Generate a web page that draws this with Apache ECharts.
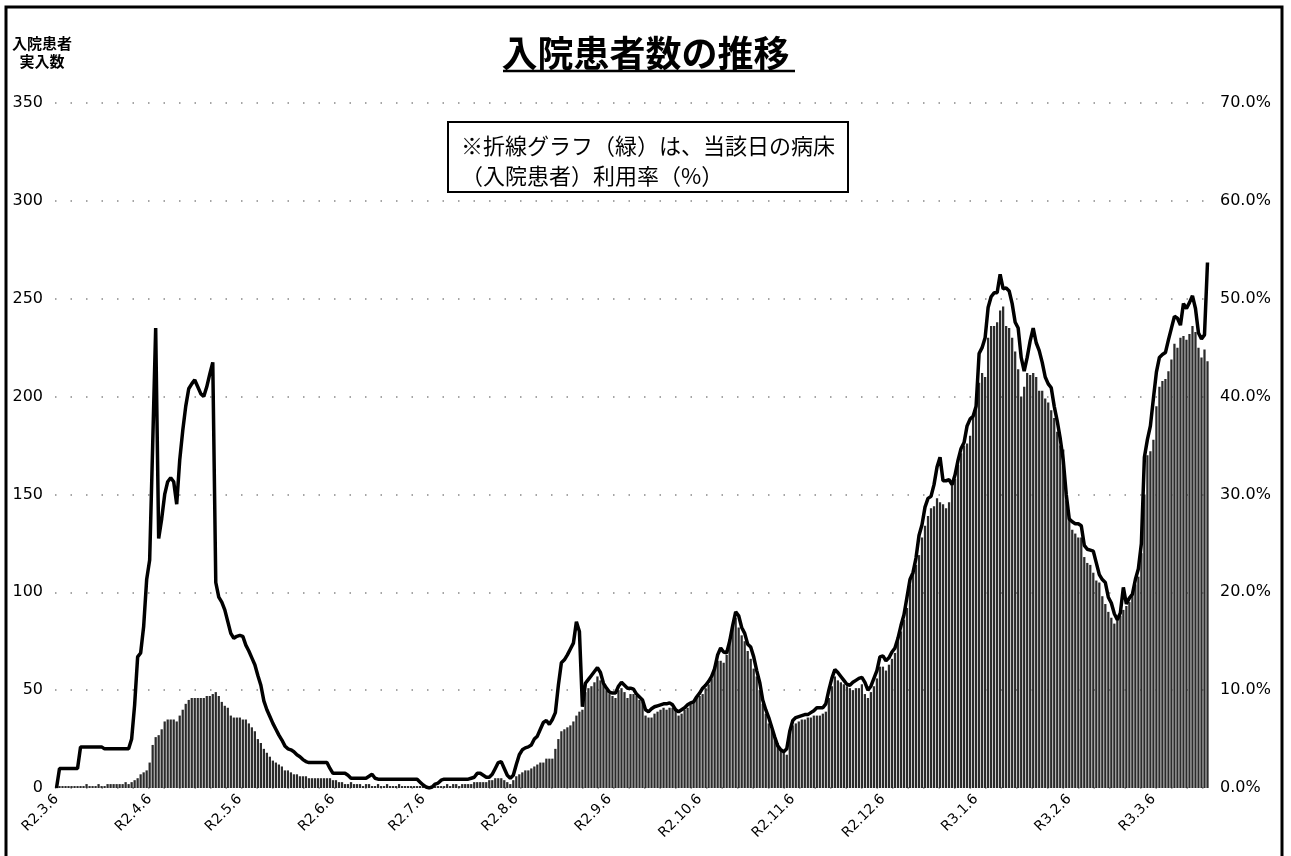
<!DOCTYPE html>
<html>
<head>
<meta charset="utf-8">
<script src="https://cdn.jsdelivr.net/npm/echarts/dist/echarts.min.js"></script>
<style>
html,body{margin:0;padding:0;background:#fff;}
#chart{width:1291px;height:856px;}
</style>
</head>
<body>
<div id="chart"></div>
<script>
// ---- data ----
const titleText = '入院患者数の推移';
const yAxisTitle = ['入院患者', '実入数'];
const noteLines = ['※折線グラフ（緑）は、当該日の病床', '（入院患者）利用率（%）'];
const startDate = [2020, 3, 6];
const monthTicks = ['R2.3.6','R2.4.6','R2.5.6','R2.6.6','R2.7.6','R2.8.6','R2.9.6','R2.10.6','R2.11.6','R2.12.6','R3.1.6','R3.2.6','R3.3.6'];
const lastLabel = '53.7%';

// 入院患者 実人数 (daily, left axis)
const patients = [
  1,1,1,1,1,1,1,1,1,1,
  2,1,1,1,2,1,1,2,2,2,
  2,2,2,3,2,3,4,5,7,8,
  9,13,22,26,27,30,34,35,35,35,
  34,37,40,43,45,46,46,46,46,46,
  47,47,48,49,47,44,42,41,37,36,
  36,36,35,35,33,31,29,25,23,20,
  18,16,14,13,12,11,9,9,8,7,
  7,6,6,6,5,5,5,5,5,5,
  5,5,4,4,3,3,2,2,3,2,
  2,2,1,2,2,1,1,2,1,1,
  2,1,1,1,2,1,1,1,1,1,
  1,1,1,0,0,1,1,1,1,1,
  2,1,2,2,1,2,2,2,2,3,
  3,3,3,3,4,4,5,5,5,4,
  3,2,4,6,7,8,9,9,10,11,
  12,13,13,15,15,15,20,25,29,30,
  31,32,34,37,39,40,49,51,52,54,
  57,55,53,50,48,47,46,50,51,49,
  46,48,48,47,45,44,37,36,36,38,
  39,40,41,40,41,41,40,37,38,40,
  41,43,44,46,47,48,51,53,56,62,
  65,65,64,68,76,82,87,82,78,75,
  70,66,61,57,50,43,38,33,30,27,
  23,19,18,17,28,32,33,34,35,35,
  36,36,37,37,37,38,39,46,52,57,
  55,54,53,52,51,50,51,51,53,48,
  46,49,52,56,62,62,60,63,66,69,
  75,80,86,92,104,110,114,119,128,134,
  139,143,144,148,146,145,143,146,155,158,
  165,171,175,176,180,190,200,207,212,210,
  230,236,236,238,244,246,236,235,230,223,
  214,200,205,212,211,212,210,203,203,199,
  197,193,189,182,175,173,147,137,132,130,
  128,128,118,115,114,110,106,105,98,94,
  90,87,84,86,88,91,93,95,99,104,
  108,120,150,170,172,178,195,205,208,209,
  213,219,227,225,230,231,229,232,236,233,
  225,220,224,218
];

// 病床（入院患者）利用率 % (daily, right axis)
const occupancyRate = [
  0,2.0,2.0,2.0,2.0,2.0,2.0,2.0,4.2,4.2,
  4.2,4.2,4.2,4.2,4.2,4.2,4.0,4.0,4.0,4.0,
  4.0,4.0,4.0,4.0,4.0,5.0,8.5,13.4,13.8,16.5,
  21.3,23.3,35.0,47.0,25.5,27.5,30.0,31.3,31.7,31.3,
  29.0,33.5,36.5,39.0,40.8,41.3,41.7,41.0,40.3,40.0,
  41.0,42.3,43.5,21.0,19.5,19.0,18.2,17.0,15.8,15.3,
  15.5,15.6,15.5,14.6,14.0,13.3,12.6,11.5,10.5,8.9,
  8.0,7.3,6.6,6.0,5.4,4.9,4.3,4.0,3.9,3.7,
  3.4,3.2,2.9,2.7,2.6,2.6,2.6,2.6,2.6,2.6,
  2.6,2.0,1.5,1.5,1.5,1.5,1.5,1.3,1.0,1.0,
  1.0,1.0,1.0,1.0,1.2,1.4,1.0,0.9,0.9,0.9,
  0.9,0.9,0.9,0.9,0.9,0.9,0.9,0.9,0.9,0.9,
  0.9,0.6,0.3,0.1,0.0,0.1,0.4,0.5,0.8,0.9,
  0.9,0.9,0.9,0.9,0.9,0.9,0.9,0.9,1.0,1.1,
  1.5,1.5,1.3,1.1,1.1,1.4,2.0,2.6,2.7,2.0,
  1.3,1.0,1.3,2.4,3.4,3.9,4.1,4.2,4.4,5.0,
  5.3,6.0,6.7,6.9,6.5,7.0,7.7,10.5,12.8,13.1,
  13.6,14.2,14.8,17.0,16.0,8.3,10.7,11.1,11.5,11.9,
  12.3,11.8,10.7,10.2,9.8,9.7,9.7,10.4,10.8,10.5,
  10.2,10.2,10.1,9.6,9.3,9.0,8.0,7.8,8.1,8.3,
  8.4,8.5,8.6,8.6,8.7,8.5,8.0,7.8,8.0,8.2,
  8.5,8.7,8.8,9.3,9.7,10.2,10.5,10.9,11.4,12.2,
  13.6,14.3,13.9,13.8,15.0,16.6,18.0,17.6,16.4,15.8,
  14.7,14.4,13.4,12.0,10.8,9.0,8.0,7.2,6.2,5.2,
  4.3,3.9,3.7,4.0,5.8,6.9,7.2,7.3,7.4,7.5,
  7.5,7.7,7.9,8.2,8.2,8.2,8.6,10.0,11.2,12.1,
  11.8,11.4,11.0,10.6,10.5,10.8,11.0,11.2,11.3,10.8,
  10.0,10.4,11.2,12.0,13.4,13.5,13.0,13.3,13.9,14.3,
  15.3,16.6,17.7,19.5,21.3,22.0,23.5,25.8,26.9,28.7,
  29.6,29.8,31.0,32.8,33.8,31.4,31.4,31.5,31.0,32.0,
  33.5,34.7,35.3,37.0,37.7,38.0,39.0,44.4,45.0,46.0,
  49.1,50.2,50.6,50.6,52.5,51.0,51.1,50.8,49.5,47.6,
  47.0,44.0,42.6,44.0,45.7,47.0,45.5,44.7,43.5,42.0,
  41.3,40.9,39.0,37.5,35.7,33.5,30.0,27.5,27.2,27.0,
  27.0,26.8,24.8,24.4,24.3,24.2,23.0,21.8,21.3,21.0,
  19.5,18.9,17.8,17.2,17.9,20.5,18.8,19.4,19.8,21.3,
  22.4,25.0,33.8,35.6,37.0,39.8,42.5,44.0,44.3,44.5,
  45.8,47.0,48.2,48.0,47.3,49.5,49.0,49.6,50.3,49.0,
  46.5,45.9,46.3,53.7
];

// daily category labels (Reiwa year.month.day)
function buildDates(n) {
  const out = [];
  const d = new Date(startDate[0], startDate[1] - 1, startDate[2]);
  for (let k = 0; k < n; k++) {
    out.push('R' + (d.getFullYear() - 2018) + '.' + (d.getMonth() + 1) + '.' + d.getDate());
    d.setDate(d.getDate() + 1);
  }
  return out;
}
const categories = buildDates(patients.length);

const lineData = occupancyRate.map((v, i) => i === occupancyRate.length - 1
  ? { value: v, label: { show: true, position: 'right', offset: [4, 6], formatter: lastLabel,
      fontSize: 16, fontFamily: 'DejaVu Sans', color: '#000' } }
  : v);

const chart = echarts.init(document.getElementById('chart'), null, { renderer: 'canvas' });
const numFont = 'DejaVu Sans';
const cjkFont = 'Noto Sans CJK JP';

chart.setOption({
  backgroundColor: '#fff',
  animation: false,
  title: {
    text: titleText,
    left: 'center',
    top: 30,
    textStyle: { fontSize: 36, fontWeight: 'bold', fontFamily: cjkFont, color: '#000' }
  },
  grid: { left: 55, right: 82, top: 103, bottom: 68 },
  xAxis: {
    type: 'category',
    data: categories,
    boundaryGap: true,
    axisLine: { show: false },
    axisTick: { show: false },
    axisLabel: {
      interval: (idx, val) => monthTicks.indexOf(val) >= 0,
      rotate: 45,
      margin: 9,
      fontSize: 14,
      fontFamily: numFont,
      color: '#000'
    },
    splitLine: { show: false }
  },
  yAxis: [
    {
      type: 'value', min: 0, max: 350, interval: 50,
      axisLine: { show: false }, axisTick: { show: false },
      axisLabel: { fontSize: 16, fontFamily: numFont, color: '#000', margin: 12 },
      splitLine: { show: true, lineStyle: { color: '#888', width: 1.5, type: [1.5, 14] } }
    },
    {
      type: 'value', min: 0, max: 70, interval: 10, position: 'right',
      axisLine: { show: false }, axisTick: { show: false },
      axisLabel: { fontSize: 16, fontFamily: numFont, color: '#000', margin: 11,
        formatter: v => v.toFixed(1) + '%' },
      splitLine: { show: false }
    }
  ],
  series: [
    {
      type: 'bar',
      data: patients,
      yAxisIndex: 0,
      barCategoryGap: '25%',
      itemStyle: { color: '#2b2b2b' },
      z: 2
    },
    {
      type: 'line',
      data: lineData,
      yAxisIndex: 1,
      symbol: 'none',
      lineStyle: { color: '#000', width: 3.5 },
      z: 3
    }
  ],
  graphic: [
    { type: 'rect', shape: { x: 6, y: 7, width: 1276, height: 900 },
      style: { fill: 'none', stroke: '#000', lineWidth: 3 }, silent: true },
    { type: 'line', shape: { x1: 503, y1: 71, x2: 795, y2: 71 },
      style: { stroke: '#000', lineWidth: 2.5 } },
    { type: 'text', left: 12, top: 34,
      style: { text: yAxisTitle.join('\n'), font: 'bold 15px "Noto Sans CJK JP"', fill: '#000',
        textAlign: 'center', lineHeight: 18 } },
    { type: 'rect', shape: { x: 448, y: 122, width: 400, height: 70 },
      style: { fill: '#fff', stroke: '#000', lineWidth: 2 }, z: 10 },
    { type: 'text', x: 461, y: 131, z: 11,
      style: { text: noteLines.join('\n'), font: '22px "Noto Sans CJK JP"', fill: '#000', lineHeight: 30 } }
  ]
});
</script>
</body>
</html>
